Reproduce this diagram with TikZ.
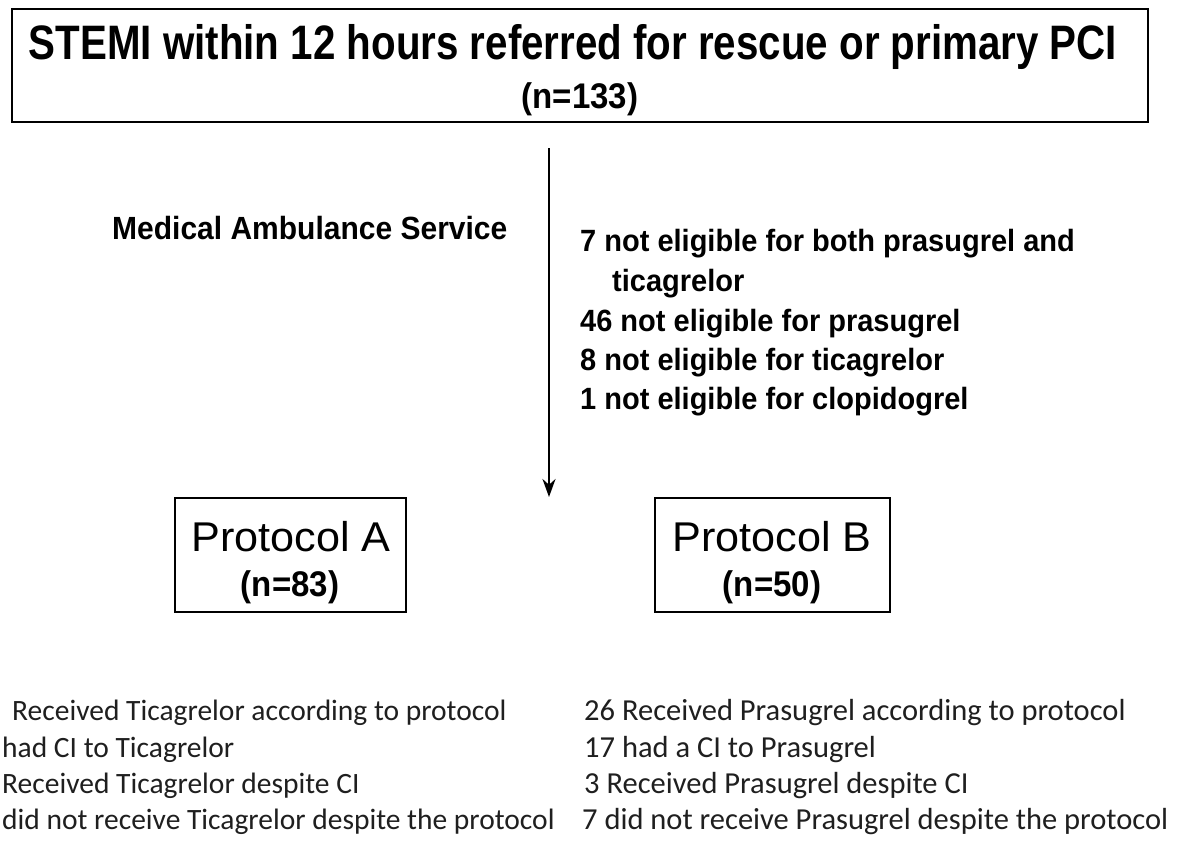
\documentclass[tikz,border=0pt]{standalone}
\usepackage{fontspec}
\setmainfont{Liberation Sans}
\newfontfamily\calib{Carlito}
\usetikzlibrary{arrows.meta}
\newcommand{\vstr}[2]{\scalebox{1}[#1]{#2}}
\begin{document}
\begin{tikzpicture}[x=1pt,y=-1pt,
  box/.style={draw, line width=2.9pt, inner sep=0pt},
  lbl/.style={anchor=base west, inner sep=0pt},
  ctr/.style={anchor=base, inner sep=0pt},
  ttlfont/.style={font=\fontsize{40.3}{40}\selectfont\bfseries},
  nfont/.style={font=\fontsize{33}{33}\selectfont\bfseries},
  listfont/.style={font=\fontsize{29}{30}\selectfont\bfseries},
  protfont/.style={font=\fontsize{40}{40}\selectfont},
  botfont/.style={font=\fontsize{30.5}{32}\selectfont\calib, text=black!88},
  botleft/.style={font=\fontsize{29.5}{32}\selectfont\calib, text=black!88},
  flow/.style={line width=2.6pt, -{Stealth[length=18pt,width=13pt]}}
]
\useasboundingbox (0,0) rectangle (1184,851);
\fill[white] (0,0) rectangle (1184,851);

% top box
\node[box, minimum width=1136pt, minimum height=113pt] (top) at (580,65.5) {};
\node[ctr, ttlfont] (t1) at (573,60) {\vstr{1.2}{STEMI within 12 hours referred for rescue or primary PCI}};
\node[ctr, nfont] (t2) at (580,109) {\vstr{1.08}{(n=133)}};

% arrow
\coordinate (arrS) at (549,148);
\coordinate (arrE) at (549,497);
\draw[flow] (arrS) -- (arrE);

% side labels
\node[lbl, font=\fontsize{30}{30}\selectfont\bfseries] (mas) at (112,239) {\vstr{1.07}{Medical Ambulance Service}};
\node[lbl, listfont] (l1) at (580,251) {\vstr{1.06}{7 not eligible for both prasugrel and}};
\node[lbl, listfont] (l1b) at (612,291) {\vstr{1.06}{ticagrelor}};
\node[lbl, listfont] (l2) at (580,331) {\vstr{1.06}{46 not eligible for prasugrel}};
\node[lbl, listfont] (l3) at (580,370) {\vstr{1.06}{8 not eligible for ticagrelor}};
\node[lbl, listfont] (l4) at (580,409) {\vstr{1.06}{1 not eligible for clopidogrel}};

% protocol boxes
\node[box, minimum width=231pt, minimum height=114pt] (pa) at (290.5,555) {};
\node[ctr, protfont] (paT) at (291,551) {\scalebox{1.08}[1.04]{Protocol A}};
\node[ctr, nfont] (paN) at (290,596) {\vstr{1.08}{(n=83)}};
\node[box, minimum width=235pt, minimum height=114pt] (pb) at (772.5,555) {};
\node[ctr, protfont] (pbT) at (772,551) {\scalebox{1.08}[1.04]{Protocol B}};
\node[ctr, nfont] (pbN) at (772,596) {\vstr{1.08}{(n=50)}};

% bottom lists
\node[lbl, botleft] (a1) at (12,720) {Received Ticagrelor according to protocol};
\node[lbl, botleft] (a2) at (2,757) {had CI to Ticagrelor};
\node[lbl, botleft] (a3) at (2,793) {Received Ticagrelor despite CI};
\node[lbl, botleft] (a4) at (2,829) {did not receive Ticagrelor despite the protocol};

\node[lbl, botfont] (b1) at (584,720) {26 Received Prasugrel according to protocol};
\node[lbl, botfont] (b2) at (584,757) {17 had a CI to Prasugrel};
\node[lbl, botfont] (b3) at (584,793) {3 Received Prasugrel despite CI};
\node[lbl, botfont] (b4) at (582,829) {7 did not receive Prasugrel despite the protocol};
\end{tikzpicture}
\end{document}
